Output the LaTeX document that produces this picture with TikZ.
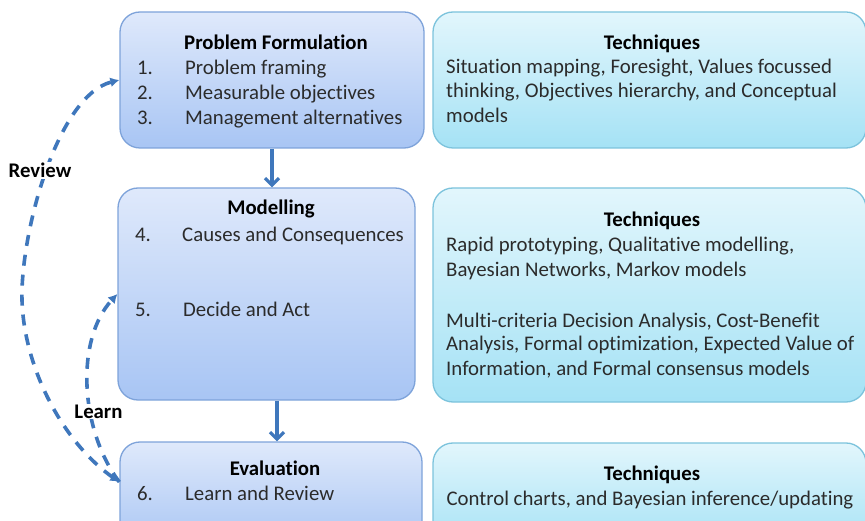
\documentclass[tikz,border=0pt]{standalone}
\usepackage{fontspec}
\setmainfont{Carlito}[Ligatures=NoCommon]
\usetikzlibrary{arrows.meta}

\definecolor{stagetop}{HTML}{DFE9FB}
\definecolor{stagebot}{HTML}{A8C5F4}
\definecolor{stageline}{HTML}{7EA3DA}
\definecolor{techtop}{HTML}{E2F6FC}
\definecolor{techbot}{HTML}{A5E2F5}
\definecolor{techline}{HTML}{7CC3DC}
\definecolor{arrowblue}{HTML}{3F77BC}
\definecolor{ink}{HTML}{2B2B2B}

\tikzstyle{panel}=[draw, rounded corners=20pt, line width=1.3pt, inner sep=0pt]
\tikzstyle{stagebox}=[panel, draw=stageline, top color=stagetop, bottom color=stagebot]
\tikzstyle{techbox}=[panel, draw=techline, top color=techtop, bottom color=techbot]
\tikzstyle{txt}=[inner sep=0pt, anchor=base west, text=ink, font=\fontsize{20.8}{24}\selectfont]
\tikzstyle{head}=[inner sep=0pt, anchor=base, text=black, font=\fontsize{20.8}{24}\selectfont\bfseries]
\tikzstyle{flow}=[line width=3.2pt, arrowblue, -{Straight Barb[length=7pt,width=14pt]}]
\tikzstyle{loop}=[line width=3.6pt, arrowblue, dash pattern=on 11pt off 9pt, >={Latex[length=9pt,width=10pt]}]
\tikzstyle{looplabel}=[head, fill=white, inner sep=1pt]

\begin{document}
\begin{tikzpicture}[x=1pt, y=-1pt]
\useasboundingbox (0,0) rectangle (865,521);

% stage boxes
\node[stagebox, minimum width=304pt, minimum height=136pt] (pf) at (272,80) {};
\node[stagebox, minimum width=297pt, minimum height=212pt] (mod) at (266.5,294) {};
\node[stagebox, minimum width=302pt, minimum height=106pt] (ev) at (271,495) {};

% technique boxes
\node[techbox, minimum width=433pt, minimum height=136pt] (tech1) at (649.5,80) {};
\node[techbox, minimum width=433pt, minimum height=214pt] (tech2) at (649.5,295) {};
\node[techbox, minimum width=433pt, minimum height=105pt] (tech3) at (649.5,495.5) {};

% main flow
\draw[flow] (pf.south) -- (pf.south |- mod.north);
\draw[flow] ([xshift=10.5pt]mod.south) -- ([xshift=10.5pt]mod.south |- ev.north);

% feedback loops
\draw[loop, <->] ([yshift=13pt]ev.west) .. controls (60,440) and (20,360) .. (22,290)
    .. controls (24,220) and (60,95) .. (pf.west);
\draw[loop, ->] ([yshift=13pt]ev.west) .. controls (80,430) and (75,340) .. (mod.west);
\node[looplabel] (review) at (40,178) {Review};
\node[looplabel] (learn) at (98.5,418) {Learn};

% problem formulation
\node[head] (pf-title) at (276,50) {Problem Formulation};
\node[txt] (pf-n1) at (137,75) {1.};
\node[txt] (pf-t1) at (185,75) {Problem framing};
\node[txt] (pf-n2) at (137,100) {2.};
\node[txt] (pf-t2) at (185,100) {Measurable objectives};
\node[txt] (pf-n3) at (137,125) {3.};
\node[txt] (pf-t3) at (185,125) {Management alternatives};

% modelling
\node[head] (mod-title) at (271,215) {Modelling};
\node[txt] (mod-n4) at (135,242) {4.};
\node[txt] (mod-t4) at (182,242) {Causes and Consequences};
\node[txt] (mod-n5) at (135,317) {5.};
\node[txt] (mod-t5) at (183,317) {Decide and Act};

% evaluation
\node[head] (ev-title) at (275,475) {Evaluation};
\node[txt] (ev-n6) at (137,500) {6.};
\node[txt] (ev-t6) at (185,500) {Learn and Review};

% techniques
\node[head] (tech1-title) at (652,50) {Techniques};
\node[txt] (tech1-a) at (446,74) {Situation mapping, Foresight, Values focussed};
\node[txt] (tech1-b) at (446,98) {thinking, Objectives hierarchy, and Conceptual};
\node[txt] (tech1-c) at (446,123) {models};

\node[head] (tech2-title) at (652,227) {Techniques};
\node[txt] (tech2-a) at (446,252) {Rapid prototyping, Qualitative modelling,};
\node[txt] (tech2-b) at (446,277) {Bayesian Networks, Markov models};
\node[txt] (tech2-c) at (446,327) {Multi-criteria Decision Analysis, Cost-Benefit};
\node[txt] (tech2-d) at (446,351) {Analysis, Formal optimization, Expected Value of};
\node[txt] (tech2-e) at (446,375) {Information, and Formal consensus models};

\node[head] (tech3-title) at (652,480) {Techniques};
\node[txt, anchor=base] (tech3-a) at (650,505) {Control charts, and Bayesian inference/updating};
\end{tikzpicture}
\end{document}
